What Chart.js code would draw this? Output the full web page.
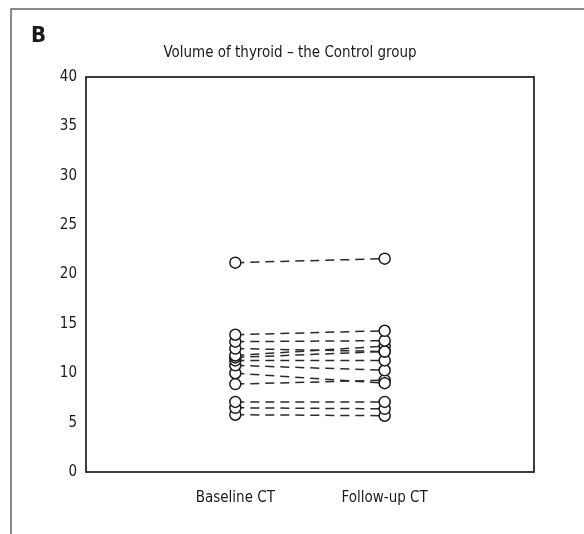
<!DOCTYPE html>
<html>
<head>
<meta charset="utf-8">
<script src="https://cdn.jsdelivr.net/npm/chart.js@4"></script>
<style>
  html, body { margin: 0; padding: 0; background: #fff; }
  #wrap { width: 584px; height: 534px; position: relative; }
</style>
</head>
<body>
<div id="wrap"><canvas id="chart"></canvas></div>
<script>
// Thyroid volume per subject, control group
const timepoints = ["Baseline CT", "Follow-up CT"];
const baseline = [21.2, 13.9, 13.2, 12.5, 11.8, 11.6, 11.3, 10.8, 10.0, 8.9, 7.1, 6.5, 5.8];
const followUp = [21.6, 14.3, 13.3, 12.2, 12.75, 12.2, 11.3, 10.3, 9.0, 9.3, 7.1, 6.4, 5.7];
const yTicks = [0, 5, 10, 15, 20, 25, 30, 35, 40];

const FONT = "'Liberation Sans Narrow', 'DejaVu Sans Condensed', sans-serif";

// one dashed line per subject
const datasets = baseline.map(function(b, i) {
  return {
    data: [{ x: 1, y: b }, { x: 2, y: followUp[i] }],
    showLine: true,
    borderColor: "#2a2a2a",
    borderWidth: 1.5,
    borderDash: [9, 6],
    pointRadius: 5.5,
    pointBorderWidth: 1.5,
    pointBorderColor: "#1a1a1a",
    pointBackgroundColor: "#fff"
  };
});

// frame, panel letter, title and plot box
const decor = {
  id: "decor",
  beforeDraw(chart) {
    const c = chart.ctx;
    c.save();
    c.fillStyle = "#fff";
    c.fillRect(0, 0, chart.width, chart.height);
    c.strokeStyle = "#666";
    c.lineWidth = 1.5;
    c.beginPath();
    c.moveTo(11, chart.height);
    c.lineTo(11, 9);
    c.lineTo(chart.width, 9);
    c.stroke();
    c.fillStyle = "#1a1a1a";
    c.font = "bold 22px " + FONT;
    c.textBaseline = "alphabetic";
    c.fillText("B", 31, 42);
    c.font = "15px " + FONT;
    c.textAlign = "center";
    c.fillText("Volume of thyroid \u2013 the Control group", 290, 57);
    c.restore();
  },
  afterDatasetsDraw(chart) {
    const a = chart.chartArea;
    const c = chart.ctx;
    c.save();
    c.strokeStyle = "#1a1a1a";
    c.lineWidth = 1.7;
    c.strokeRect(a.left, a.top, a.right - a.left, a.bottom - a.top);
    c.restore();
  }
};

new Chart(document.getElementById("chart"), {
  type: "scatter",
  data: { datasets: datasets },
  options: {
    responsive: true,
    maintainAspectRatio: false,
    animation: false,
    layout: { padding: { left: 0, right: 50, top: 77, bottom: 0 } },
    plugins: { legend: { display: false }, tooltip: { enabled: false } },
    scales: {
      x: {
        type: "linear",
        min: 0,
        max: 3,
        grid: { display: false, drawTicks: false },
        border: { display: false },
        afterFit(scale) { scale.height = 62; },
        ticks: {
          stepSize: 1,
          padding: 17,
          color: "#1a1a1a",
          font: { family: FONT, size: 15 },
          callback: function(v) { return timepoints[v - 1] || ""; }
        }
      },
      y: {
        min: 0,
        max: 40,
        grid: { display: false, drawTicks: false },
        border: { display: false },
        afterFit(scale) { scale.width = 86; },
        afterBuildTicks(scale) { scale.ticks = yTicks.map(v => ({ value: v })); },
        ticks: {
          padding: 9,
          color: "#1a1a1a",
          font: { family: FONT, size: 15 }
        }
      }
    }
  },
  plugins: [decor]
});
</script>
</body>
</html>
